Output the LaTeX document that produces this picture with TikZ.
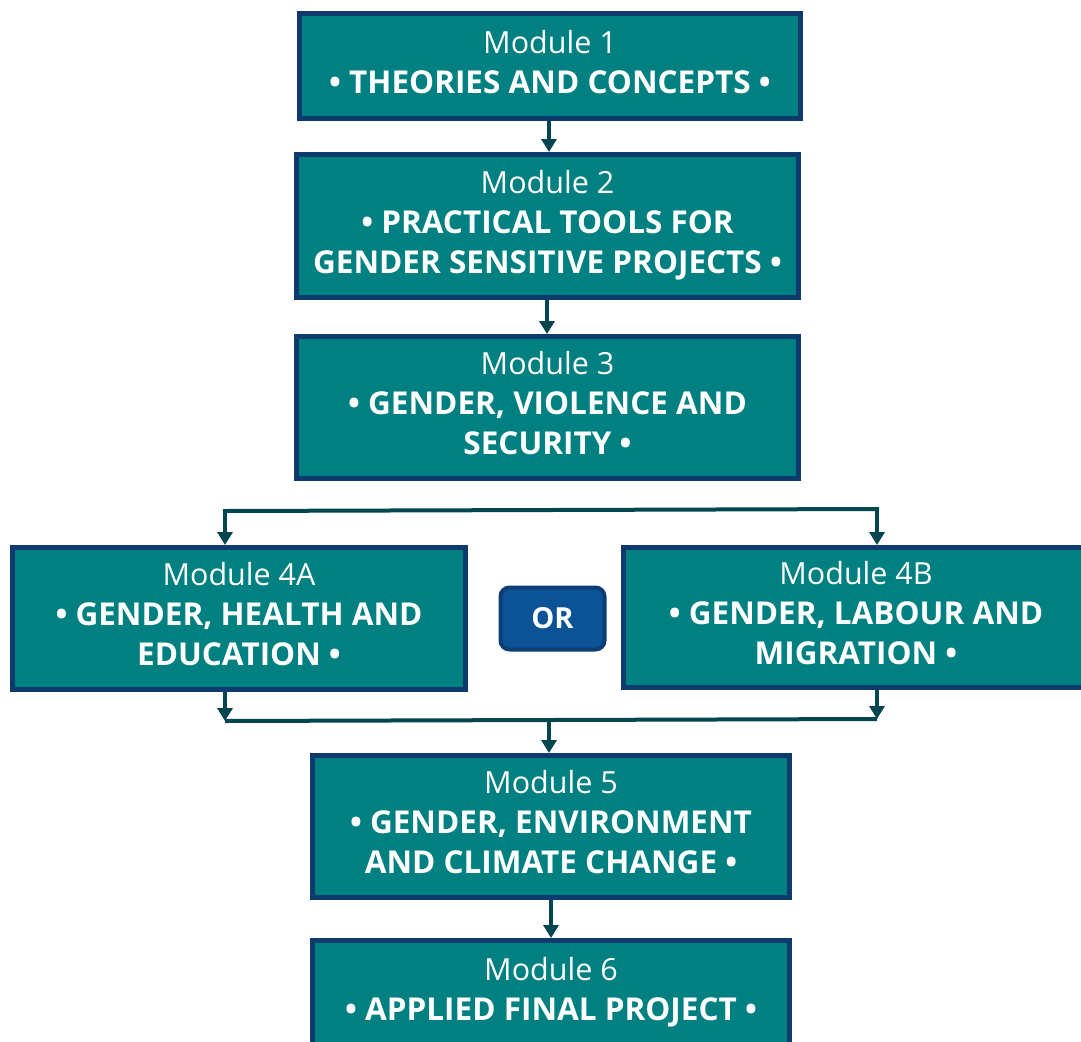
\documentclass[tikz,border=0pt]{standalone}
\usepackage{fontspec}
\setmainfont{Open Sans}
\usetikzlibrary{arrows.meta}
\definecolor{tealfill}{RGB}{0,128,128}
\definecolor{navyborder}{RGB}{14,58,110}
\definecolor{connc}{RGB}{4,70,80}
\definecolor{orfill}{RGB}{11,82,150}
\definecolor{orborder}{RGB}{13,62,115}
\newcommand{\modhead}[1]{{\fontsize{30.5}{40}\selectfont #1}}
\tikzset{
  modbox/.style={draw=navyborder, line width=5pt, fill=tealfill, text=white,
    align=center, inner sep=0pt, text depth=9pt, font=\fontsize{31.5}{40}\selectfont},
  conn/.style={draw=connc, line width=4pt, -{Triangle[width=15pt,length=13pt]}},
  plain/.style={draw=connc, line width=4pt},
  orbox/.style={draw=orborder, line width=4pt, fill=orfill, text=white,
    rounded corners=9pt, inner sep=0pt, font=\fontsize{29}{34}\selectfont\bfseries}
}
\begin{document}
\begin{tikzpicture}[x=1pt,y=-1pt]
\clip (0,0) rectangle (1081,1041);
\fill[white] (0,0) rectangle (1081,1041);

\node[modbox, minimum width=501pt, minimum height=105pt] (m1) at (550,66)
  {\modhead{Module 1}\\\textbf{• THEORIES AND CONCEPTS •}};
\node[modbox, minimum width=502pt, minimum height=143pt] (m2) at (547.5,226)
  {\modhead{Module 2}\\\textbf{• PRACTICAL TOOLS FOR}\\\textbf{GENDER SENSITIVE PROJECTS •}};
\node[modbox, minimum width=502pt, minimum height=142pt] (m3) at (547.5,407.5)
  {\modhead{Module 3}\\\textbf{• GENDER, VIOLENCE AND}\\\textbf{SECURITY •}};
\node[modbox, minimum width=453pt, minimum height=142pt] (m4a) at (239,618.5)
  {\modhead{Module 4A}\\\textbf{• GENDER, HEALTH AND}\\\textbf{EDUCATION •}};
\node[modbox, minimum width=465pt, minimum height=140pt] (m4b) at (856,617.5)
  {\modhead{Module 4B}\\\textbf{• GENDER, LABOUR AND}\\\textbf{MIGRATION •}};
\node[orbox, minimum width=104pt, minimum height=62pt] (or) at (552.5,618.5) {OR};
\node[modbox, minimum width=477pt, minimum height=142pt] (m5) at (551,826.5)
  {\modhead{Module 5}\\\textbf{• GENDER, ENVIRONMENT}\\\textbf{AND CLIMATE CHANGE •}};
\node[modbox, minimum width=477pt, minimum height=105pt] (m6) at (551,993)
  {\modhead{Module 6}\\\textbf{• APPLIED FINAL PROJECT •}};

% straight connectors
\coordinate (a1) at (549,121);
\draw[conn] (a1) -- (a1 |- m2.north);
\coordinate (a2) at (547,300);
\draw[conn] (a2) -- (a2 |- m3.north);
\coordinate (a5) at (551,900);
\draw[conn] (a5) -- (a5 |- m6.north);

% split bracket
\coordinate (s1) at (225,511);
\coordinate (s2) at (877,509);
\draw[plain, line cap=rect] (s1) -- (s2);
\draw[conn] (s1) -- (s1 |- m4a.north);
\draw[conn] (s2) -- (s2 |- m4b.north);

% join bracket
\coordinate (j1) at (225,721);
\coordinate (j2) at (877,719);
\coordinate (j3) at (549,720);
\draw[conn] (m4a.south -| j1) -- (j1);
\draw[conn] (m4b.south -| j2) -- (j2);
\draw[plain] (j1) -- (j2);
\draw[conn] (j3) -- (j3 |- m5.north);
\end{tikzpicture}
\end{document}
